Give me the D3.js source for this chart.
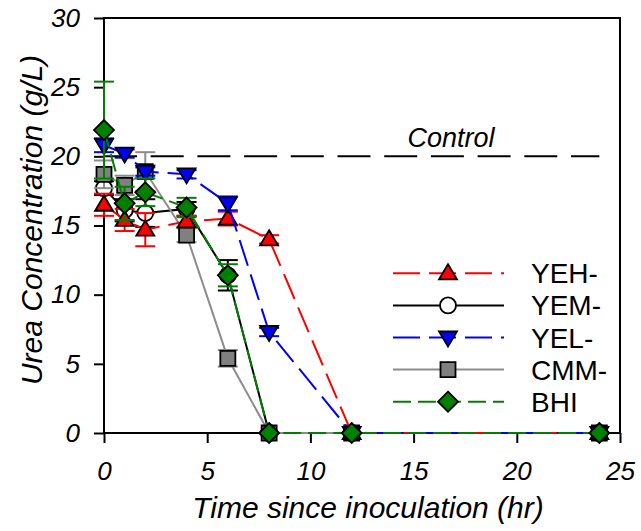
<!DOCTYPE html>
<html>
<head>
<meta charset="utf-8">
<script src="https://cdn.jsdelivr.net/npm/d3@7"></script>
<style>
  body { margin: 0; background: #fff; }
  svg text { font-family: "Liberation Sans", Arial, sans-serif; }
</style>
</head>
<body>
<div id="main"></div>
<script>
// data
const times = [0, 1, 2, 4, 6, 8, 12, 24]
const seriesNames = ["YEH-", "YEM-", "YEL-", "CMM-", "BHI"]
const yehMean = [16.5, 15.4, 14.7, 15.3, 15.5, 14.0, 0, 0]
const yehErr = [0.8, 0.8, 1.2, 0.4, 0.5, 0.3, 0, 0]
const yemMean = [17.7, 16.1, 15.9, 16.2, 11.4, 0, 0, 0]
const yemErr = [0.5, 0.8, 1.0, 0.5, 1.1, 0, 0, 0]
const yelMean = [20.8, 20.2, 18.9, 18.7, 16.6, 7.3, 0, 0]
const yelErr = [0.5, 0.3, 0.3, 0.3, 0.5, 0.3, 0, 0]
const cmmMean = [18.7, 17.9, 18.9, 14.3, 5.4, 0, 0, 0]
const cmmErr = [1.0, 0.7, 1.4, 0.5, 0.6, 0, 0, 0]
const bhiMean = [21.9, 16.6, 17.4, 16.3, 11.4, 0, 0, 0]
const bhiErr = [3.5, 1.2, 1.0, 0.7, 0.8, 0, 0, 0]
const controlValue = 20
const xTicks = [0, 5, 10, 15, 20, 25]
const yTicks = [0, 5, 10, 15, 20, 25, 30]

let margin = {top: 18, right: 21, bottom: 98, left: 104},
    width = 641 - margin.left - margin.right,
    height = 531 - margin.top - margin.bottom;

let x = d3.scaleLinear().domain([0, 25]).range([0, width])
let y = d3.scaleLinear().domain([0, 30]).range([height, 0])

let svg = d3.select("#main").append("svg")
    .attr("width", 641)
    .attr("height", 531)

let g = svg.append("g")
    .attr("transform", "translate(" + margin.left + "," + margin.top + ")")

// frame
g.append("rect")
    .attr("width", width)
    .attr("height", height)
    .attr("fill", "none")
    .attr("stroke", "#000")
    .attr("stroke-width", 2)

// axes
let xAxis = g.append("g")
    .attr("transform", "translate(0," + height + ")")
    .call(d3.axisBottom(x).tickValues(xTicks).tickSize(10).tickPadding(19).tickSizeOuter(0))
let yAxis = g.append("g")
    .call(d3.axisLeft(y).tickValues(yTicks).tickSize(10).tickPadding(14).tickSizeOuter(0))

;[xAxis, yAxis].forEach(a => {
    a.select(".domain").remove()
    a.selectAll("line").attr("stroke", "#000").attr("stroke-width", 2)
    a.selectAll("text")
        .attr("fill", "#000")
        .attr("font-size", "26px")
        .attr("font-style", "italic")
})
xAxis.selectAll("text").attr("dy", "0.71em")

// axis titles
svg.append("text")
    .attr("x", 368)
    .attr("y", 518)
    .attr("text-anchor", "middle")
    .attr("font-size", "30px")
    .attr("font-style", "italic")
    .text("Time since inoculation (hr)")

svg.append("text")
    .attr("transform", "translate(42,220) rotate(-90)")
    .attr("text-anchor", "middle")
    .attr("font-size", "30px")
    .attr("font-style", "italic")
    .text("Urea Concentration (g/L)")

// control line
g.append("line")
    .attr("x1", x(0)).attr("x2", x(24))
    .attr("y1", y(controlValue)).attr("y2", y(controlValue))
    .attr("stroke", "#000")
    .attr("stroke-width", 2)
    .attr("stroke-dasharray", "33,13.7")

g.append("text")
    .attr("x", x(14.7))
    .attr("y", y(controlValue) - 9)
    .attr("font-size", "27px")
    .attr("font-style", "italic")
    .text("Control")

// series
let series = [
    {name: seriesNames[1], mean: yemMean, err: yemErr, color: "#000", dash: null, shape: "circle", fill: "#fff"},
    {name: seriesNames[3], mean: cmmMean, err: cmmErr, color: "#8c8c8c", dash: null, shape: "square", fill: "#808080"},
    {name: seriesNames[0], mean: yehMean, err: yehErr, color: "#ff0000", dash: "27,9", shape: "triUp", fill: "#ff0000"},
    {name: seriesNames[2], mean: yelMean, err: yelErr, color: "#0000ff", dash: "27,9", shape: "triDown", fill: "#0000ff"},
    {name: seriesNames[4], mean: bhiMean, err: bhiErr, color: "#008000", dash: "18,7", shape: "diamond", fill: "#008000"}
]

function markerPath(shape) {
    if (shape === "triUp") return "M0,-9L9,6L-9,6Z"
    if (shape === "triDown") return "M0,9L9,-6L-9,-6Z"
    if (shape === "diamond") return "M0,-10L10,0L0,10L-10,0Z"
    if (shape === "square") return "M-7.5,-7.5H7.5V7.5H-7.5Z"
    return null
}

function drawMarker(sel, s) {
    if (s.shape === "circle") {
        sel.append("circle").attr("r", 8)
            .attr("fill", s.fill).attr("stroke", "#000").attr("stroke-width", 1.8)
    } else {
        sel.append("path").attr("d", markerPath(s.shape))
            .attr("fill", s.fill).attr("stroke", "#000").attr("stroke-width", 1.8)
            .attr("stroke-linejoin", "miter")
    }
}

let line = d3.line().x(d => x(d.t)).y(d => y(d.v))

series.forEach(s => {
    let pts = times.map((t, i) => ({t: t, v: s.mean[i], e: s.err[i]}))
    let sg = g.append("g")

    sg.append("path")
        .datum(pts)
        .attr("d", line)
        .attr("fill", "none")
        .attr("stroke", s.color)
        .attr("stroke-width", 2)
        .attr("stroke-dasharray", s.dash)

    let eb = sg.selectAll(".err")
        .data(pts.filter(d => d.e > 0))
        .enter().append("g")
        .attr("stroke", s.color)
        .attr("stroke-width", 2)
    eb.append("line")
        .attr("x1", d => x(d.t)).attr("x2", d => x(d.t))
        .attr("y1", d => y(d.v - d.e)).attr("y2", d => y(d.v + d.e))
    eb.append("line")
        .attr("x1", d => x(d.t) - 10).attr("x2", d => x(d.t) + 10)
        .attr("y1", d => y(d.v + d.e)).attr("y2", d => y(d.v + d.e))
    eb.append("line")
        .attr("x1", d => x(d.t) - 10).attr("x2", d => x(d.t) + 10)
        .attr("y1", d => y(d.v - d.e)).attr("y2", d => y(d.v - d.e))

    sg.selectAll(".mk")
        .data(pts)
        .enter().append("g")
        .attr("transform", d => "translate(" + x(d.t) + "," + y(d.v) + ")")
        .each(function () { drawMarker(d3.select(this), s) })
})

// legend
let legendOrder = [2, 0, 3, 1, 4]
let legend = svg.append("g")
legendOrder.forEach((k, i) => {
    let s = series[k]
    let ly = 273.3 + i * 32.1
    legend.append("line")
        .attr("x1", 393).attr("x2", 504)
        .attr("y1", ly).attr("y2", ly)
        .attr("stroke", s.color)
        .attr("stroke-width", 2)
        .attr("stroke-dasharray", s.dash)
    let m = legend.append("g").attr("transform", "translate(448," + ly + ")")
    drawMarker(m, s)
    legend.append("text")
        .attr("x", 531)
        .attr("y", ly + 10)
        .attr("font-size", "28px")
        .text(s.name)
})
</script>
</body>
</html>
